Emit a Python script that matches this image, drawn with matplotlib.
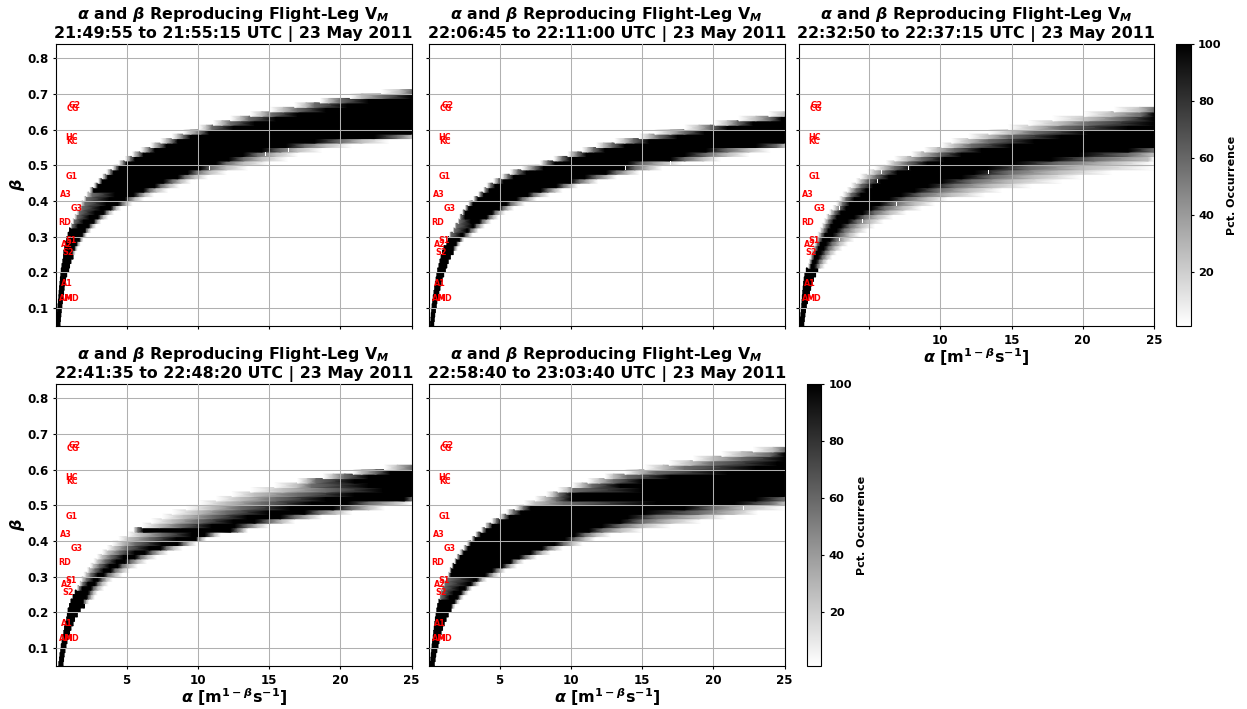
import matplotlib

matplotlib.use("Agg")
import matplotlib.pyplot as plt
from matplotlib.cm import ScalarMappable
from matplotlib.colors import Normalize

plt.rcParams["font.family"] = "DejaVu Sans"
plt.rcParams["font.weight"] = "bold"
plt.rcParams["mathtext.fontset"] = "dejavusans"
plt.rcParams["mathtext.default"] = "bf"

FIG_W, FIG_H = 1247, 709

leg_times = [
    "21:49:55 to 21:55:15",
    "22:06:45 to 22:11:00",
    "22:32:50 to 22:37:15",
    "22:41:35 to 22:48:20",
    "22:58:40 to 23:03:40",
]

# ice-class labels, alpha / beta position
class_names = ["G2", "CG", "HC", "KC", "G1", "A3", "G3", "RD", "S1", "A2", "S2", "A1", "AM", "MD"]
class_alpha = [1.34, 1.24, 1.15, 1.15, 1.17, 0.73, 1.53, 0.66, 1.13, 0.82, 0.92, 0.82, 0.78, 1.12]
class_beta = [0.669, 0.658, 0.579, 0.568, 0.468, 0.418, 0.378, 0.339, 0.289, 0.277, 0.257, 0.168, 0.128, 0.128]

# rows of the beta grid, bottom row first
beta_start = 0.05
beta_step = 0.0125

# alpha positions where one beta row reaches these percentages:
#   2 values: black run
#   4 values: rising shades, then black out to the axis edge
#   8 values: rising shades, black, falling shades
edge_pct = [1, 26, 58, 100, 100, 58, 26, 1]

panel1_rows = [
    (0.07, 0.33), (0.10, 0.36), (0.13, 0.39), (0.16, 0.42), (0.19, 0.46), (0.22, 0.50),
    (0.25, 0.54), (0.27, 0.58), (0.30, 0.62), (0.33, 0.66), (0.36, 0.72), (0.39, 0.80),
    (0.42, 0.94), (0.47, 1.00), (0.53, 1.10), (0.58, 1.25),
    (0.6, 0.6, 0.6, 0.6, 1.2, 1.26, 1.32, 1.4),
    (0.66, 0.66, 0.66, 0.66, 1.35, 1.42, 1.48, 1.55),
    (0.72, 0.72, 0.72, 0.72, 1.5, 1.58, 1.65, 1.75),
    (0.8, 0.8, 0.8, 0.8, 1.7, 1.78, 1.86, 1.95),
    (0.9, 0.9, 0.9, 0.9, 1.9, 2.0, 2.1, 2.2),
    (1.0, 1.0, 1.0, 1.0, 2.1, 2.2, 2.35, 2.5),
    (1.1, 1.15, 1.2, 1.6, 2.35, 2.5, 2.65, 2.85),
    (1.2, 1.3, 1.35, 2.0, 2.7, 2.85, 3.0, 3.2),
    (1.35, 1.45, 1.55, 2.4, 3.0, 3.2, 3.4, 3.7),
    (1.5, 1.6, 1.7, 2.8, 3.4, 3.6, 3.8, 4.1),
    (1.65, 1.75, 1.9, 3.2, 3.9, 4.1, 4.3, 4.6),
    (1.8, 1.9, 2.1, 3.6, 4.4, 4.7, 5.0, 5.4),
    (2.0, 2.1, 2.2, 3.8, 4.9, 5.2, 5.6, 6.2),
    (2.2, 2.3, 2.6, 4.2, 5.5, 5.9, 6.3, 6.9),
    (2.4, 2.5, 2.6, 2.7, 6.2, 6.6, 7.1, 7.9),
    (2.7, 2.8, 2.9, 3.0, 7.0, 7.4, 8.0, 8.7),
    (3.0, 3.1, 3.2, 3.3, 7.6, 8.2, 8.8, 9.5),
    (3.3, 3.4, 3.55, 3.7, 8.6, 9.1, 9.8, 10.7),
    (3.6, 3.75, 3.9, 4.1, 9.3, 9.9, 10.8, 12.0),
    (4.0, 4.15, 4.3, 4.5, 10.2, 10.9, 12.0, 13.5),
    (4.45, 4.6, 4.8, 5.0, 11.3, 12.0, 13.2, 15.0),
    (4.9, 5.1, 5.3, 5.6, 12.2, 13.2, 14.5, 16.3),
    (5.4, 5.6, 5.9, 6.2, 13.2, 14.2, 15.5, 17.0),
    (6.0, 6.3, 6.6, 7.0, 14.5, 15.8, 17.0, 18.7),
    (6.7, 7.0, 7.4, 7.8, 16.2, 17.5, 19.0, 20.8),
    (7.4, 7.8, 8.2, 8.6, 18.2, 20.0, 21.5, 23.4),
    (8.2, 8.6, 9.0, 9.5, 22.4, 24.0, 25.0, 25.0),
    (9.0, 9.5, 10.2, 10.8),
    (10.1, 10.6, 11.0, 12.5),
    (11.1, 11.7, 12.3, 14.0),
    (12.3, 13.0, 13.6, 15.5),
    (13.7, 14.5, 15.2, 17.0),
    (15.1, 16.0, 17.0, 19.0),
    (16.8, 17.6, 18.2, 20.5),
    (18.6, 19.2, 20.0, 22.0),
    (20.7, 21.5, 23.0, 25.0),
    (22.9, 24.2, 25.0, 25.0),
]

panel2_rows = [
    (0.16, 0.38), (0.19, 0.42), (0.21, 0.45), (0.24, 0.50), (0.27, 0.56), (0.31, 0.60),
    (0.35, 0.66), (0.40, 0.74), (0.45, 0.82), (0.50, 0.90), (0.55, 0.98), (0.60, 1.08),
    (0.66, 1.20), (0.75, 1.30), (0.82, 1.40), (0.90, 1.55), (1.00, 1.75),
    (1.1, 1.1, 1.1, 1.1, 1.75, 1.85, 1.95, 2.05),
    (1.3, 1.3, 1.3, 1.3, 1.95, 2.05, 2.15, 2.25),
    (1.4, 1.4, 1.4, 1.4, 2.2, 2.3, 2.4, 2.5),
    (1.5, 1.55, 1.6, 2.3, 2.45, 2.65, 2.9, 3.1),
    (1.76, 1.8, 1.85, 2.7, 2.8, 3.0, 3.3, 3.5),
    (1.87, 1.92, 2.0, 3.1, 3.2, 3.4, 3.7, 3.95),
    (2.1, 2.15, 2.2, 3.0, 3.6, 3.8, 4.1, 4.4),
    (2.2, 2.25, 2.3, 2.6, 4.1, 4.3, 4.6, 4.9),
    (2.4, 2.45, 2.5, 2.6, 4.5, 4.7, 5.0, 5.4),
    (2.58, 2.65, 2.72, 2.85, 5.0, 5.25, 5.6, 6.0),
    (2.8, 2.9, 3.0, 3.15, 5.5, 5.8, 6.3, 6.75),
    (3.16, 3.25, 3.35, 3.5, 6.2, 6.6, 7.1, 7.6),
    (3.5, 3.6, 3.7, 3.9, 7.0, 7.4, 7.9, 8.5),
    (3.86, 3.95, 4.05, 4.3, 7.9, 8.4, 8.9, 9.4),
    (4.1, 4.25, 4.4, 4.7, 9.0, 9.5, 10.0, 10.5),
    (4.57, 4.75, 4.95, 5.3, 10.0, 10.6, 11.3, 11.9),
    (5.15, 5.35, 5.6, 6.0, 11.0, 11.8, 12.6, 13.2),
    (5.74, 6.0, 6.3, 6.9, 12.5, 13.2, 14.0, 14.8),
    (6.56, 7.0, 7.5, 8.1, 13.7, 14.5, 15.5, 16.4),
    (7.85, 8.1, 8.4, 8.9, 14.0, 15.0, 16.5, 17.8),
    (8.8, 9.1, 9.4, 10.0, 17.0, 18.0, 19.3, 20.5),
    (9.8, 10.1, 10.5, 11.1, 18.0, 19.5, 21.0, 22.5),
    (10.8, 11.2, 11.6, 12.4, 19.5, 21.0, 22.5, 24.0),
    (11.8, 12.3, 12.9, 13.8, 23.0, 24.5, 25.0, 25.0),
    (13.1, 13.8, 14.4, 15.5),
    (14.8, 15.5, 16.2, 17.5),
    (15.9, 17.0, 18.0, 19.4),
    (18.0, 19.0, 19.8, 21.0),
    (20.1, 21.0, 21.7, 22.8),
    (21.8, 23.0, 24.0, 24.8),
    (23.9, 25.0, 25.0, 25.0),
]

panel3_rows = [
    (0.16, 0.42), (0.19, 0.46), (0.22, 0.50), (0.25, 0.54), (0.28, 0.60), (0.30, 0.68),
    (0.32, 0.76), (0.35, 0.82), (0.38, 0.90), (0.41, 1.00), (0.45, 1.10), (0.50, 1.25),
    (0.60, 1.40),
    (0.73, 0.8, 0.87, 0.94, 1.17, 1.4, 1.6, 1.87),
    (0.8, 0.87, 0.94, 1.05, 1.3, 1.52, 1.8, 2.1),
    (0.87, 0.96, 1.05, 1.17, 1.45, 1.73, 2.06, 2.4),
    (0.94, 1.05, 1.17, 1.31, 1.64, 1.95, 2.3, 2.7),
    (1.05, 1.17, 1.29, 1.45, 1.83, 2.18, 2.62, 3.1),
    (1.17, 1.29, 1.4, 1.6, 2.0, 2.41, 2.93, 3.5),
    (1.29, 1.4, 1.55, 1.76, 2.25, 2.7, 3.28, 3.93),
    (1.4, 1.55, 1.69, 1.92, 2.46, 3.0, 3.63, 4.33),
    (1.55, 1.69, 1.87, 2.15, 2.74, 3.28, 4.05, 4.87),
    (1.69, 1.83, 2.0, 2.34, 3.04, 3.65, 4.45, 5.4),
    (1.83, 2.0, 2.18, 2.53, 3.5, 4.17, 5.03, 6.0),
    (2.0, 2.15, 2.39, 2.76, 3.98, 4.68, 5.62, 6.67),
    (2.22, 2.39, 2.62, 3.04, 4.57, 5.39, 6.44, 7.6),
    (2.46, 2.7, 2.93, 3.4, 5.15, 6.1, 7.38, 8.67),
    (2.7, 2.93, 3.16, 3.63, 5.74, 6.8, 8.2, 9.6),
    (2.93, 3.16, 3.4, 3.98, 6.44, 7.6, 9.13, 10.5),
    (3.16, 3.47, 3.75, 4.45, 7.26, 8.67, 10.77, 13.1),
    (3.47, 3.75, 4.1, 4.8, 8.2, 9.83, 12.0, 14.3),
    (3.75, 4.1, 4.45, 5.3, 9.13, 11.0, 13.6, 16.4),
    (4.1, 4.45, 4.9, 5.85, 10.07, 12.2, 15.0, 18.5),
    (4.4, 4.9, 5.5, 6.4, 11.5, 13.6, 16.6, 19.9),
    (4.9, 5.4, 6.1, 7.0, 12.4, 14.8, 18.3, 22.0),
    (5.4, 6.1, 6.8, 8.0, 13.35, 16.2, 20.1, 25.0),
    (6.2, 6.8, 7.7, 9.1, 15.2, 18.3, 22.0, 25.0),
    (6.8, 7.7, 8.7, 10.3, 17.8, 20.8, 24.6, 25.0),
    (8.0, 8.7, 9.8, 11.5, 19.7, 23.2, 25.0, 25.0),
    (8.9, 9.8, 11.0, 12.9, 23.2, 25.0, 25.0, 25.0),
    (10.1, 11.0, 12.2, 15.0),
    (10.8, 12.0, 13.4, 16.6),
    (12.0, 13.4, 14.8, 18.5),
    (13.4, 15.0, 16.6, 20.4),
    (14.8, 16.6, 18.5, 23.2),
    (16.2, 18.3, 20.4, 25.0),
    (17.9, 20.4, 22.7, 25.0),
    (20.1, 22.0, 24.1, 25.0),
    (22.2, 24.0, 25.0, 25.0),
]

panel4_rows = [
    (0.25, 0.54), (0.30, 0.58), (0.33, 0.62), (0.38, 0.68), (0.42, 0.75), (0.48, 0.82),
    (0.54, 0.90), (0.60, 1.00), (0.65, 1.10), (0.72, 1.25), (0.80, 1.35), (0.85, 1.55),
    (0.90, 1.75), (1.00, 2.05),
    (1.1, 1.1, 1.1, 1.1, 1.95, 2.05, 2.2, 2.35),
    (1.25, 1.25, 1.25, 1.25, 2.2, 2.35, 2.55, 2.75),
    (1.4, 1.4, 1.4, 1.4, 2.3, 2.5, 2.7, 2.95),
    (1.53, 1.6, 1.7, 1.9, 2.5, 2.7, 3.0, 3.4),
    (1.7, 1.8, 1.95, 2.3, 2.8, 3.0, 3.3, 3.7),
    (1.83, 1.95, 2.2, 2.7, 3.0, 3.3, 3.6, 4.0),
    (2.0, 2.2, 2.5, 3.0, 3.4, 3.7, 4.2, 4.7),
    (2.23, 2.4, 2.8, 3.4, 3.9, 4.2, 4.7, 5.2),
    (2.46, 2.7, 3.1, 3.8, 4.4, 4.7, 5.2, 5.75),
    (2.7, 3.0, 3.5, 4.3, 4.9, 5.3, 5.8, 6.4),
    (2.93, 3.3, 3.9, 4.8, 5.6, 6.0, 6.5, 7.1),
    (3.3, 3.7, 4.5, 5.6, 6.3, 6.8, 7.3, 7.9),
    (3.64, 4.2, 5.0, 6.6, 7.4, 7.8, 8.3, 8.9),
    (4.0, 4.7, 5.6, 7.5, 8.6, 9.0, 9.4, 9.9),
    (4.46, 5.2, 6.6, 8.5, 9.9, 10.0, 10.3, 10.6),
    (5.05, 6.0, 7.5, 9.6, 10.5, 10.9, 11.2, 11.6),
    (5.5, 5.6, 5.8, 6.2, 12.3, 12.8, 13.2, 13.5),
    (6.1, 7.3, 8.8, 11.0, 12.6, 13.5, 14.2, 15.0),
    (6.76, 8.2, 10.0, 12.5, 14.0, 15.0, 15.9, 16.8),
    (7.5, 9.0, 11.0, 13.5, 15.8, 16.8, 17.8, 18.7),
    (8.2, 10.0, 12.0, 15.0, 17.5, 18.5, 19.7, 20.8),
    (9.2, 11.0, 13.0, 16.5, 19.5, 20.8, 22.0, 23.1),
    (10.1, 12.0, 14.5, 18.0, 20.5, 22.0, 23.8, 25.0),
    (11.3, 13.0, 15.5, 19.0, 24.5, 25.0, 25.0, 25.0),
    (12.4, 14.0, 17.0, 21.0),
    (13.7, 16.0, 19.0, 23.0),
    (15.4, 17.0, 18.0, 22.0),
    (17.0, 17.7, 18.3, 21.0),
    (18.8, 19.5, 20.3, 22.0),
    (20.9, 21.5, 22.5, 23.5),
    (23.1, 24.0, 25.0, 25.0),
]

panel5_rows = [
    (0.12, 0.42), (0.18, 0.48), (0.21, 0.52), (0.24, 0.60), (0.27, 0.68), (0.30, 0.75),
    (0.35, 0.82), (0.38, 0.90), (0.42, 1.00), (0.46, 1.12), (0.50, 1.25), (0.55, 1.40),
    (0.60, 1.60),
    (0.66, 0.66, 0.66, 0.66, 1.6, 1.7, 1.78, 1.87),
    (0.75, 0.75, 0.75, 0.75, 1.85, 1.95, 2.05, 2.2),
    (0.82, 0.85, 0.88, 1.5, 2.05, 2.2, 2.3, 2.46),
    (0.9, 0.93, 0.96, 1.8, 2.3, 2.45, 2.6, 2.8),
    (0.98, 1.02, 1.06, 2.2, 2.6, 2.75, 2.9, 3.05),
    (1.1, 1.15, 1.2, 2.8, 3.0, 3.2, 3.4, 3.6),
    (1.3, 1.33, 1.36, 3.2, 3.4, 3.6, 3.8, 4.1),
    (1.4, 1.45, 1.5, 1.6, 4.0, 4.3, 4.6, 5.0),
    (1.5, 1.55, 1.6, 1.65, 4.5, 4.8, 5.1, 5.4),
    (1.64, 1.7, 1.75, 1.8, 5.2, 5.5, 5.8, 6.2),
    (1.83, 1.9, 1.95, 2.0, 5.8, 6.0, 6.3, 6.7),
    (2.0, 2.05, 2.15, 2.25, 6.4, 6.8, 7.2, 7.6),
    (2.2, 2.3, 2.4, 2.5, 7.2, 7.6, 8.0, 8.55),
    (2.46, 2.55, 2.65, 2.8, 8.0, 8.4, 8.9, 9.4),
    (2.7, 2.8, 2.9, 3.0, 8.9, 9.5, 10.1, 10.8),
    (3.05, 3.1, 3.2, 3.3, 9.6, 10.3, 11.0, 11.7),
    (3.3, 3.4, 3.5, 3.7, 10.3, 11.0, 11.8, 12.8),
    (3.7, 3.8, 3.9, 4.1, 11.3, 12.2, 13.5, 15.0),
    (4.0, 4.1, 4.3, 4.5, 12.2, 13.5, 15.0, 17.0),
    (4.45, 4.6, 4.8, 5.1, 13.5, 15.0, 17.0, 19.1),
    (5.0, 5.2, 5.4, 5.7, 14.0, 16.0, 19.0, 20.9),
    (5.5, 5.7, 6.0, 6.5, 15.2, 19.0, 21.5, 23.1),
    (6.1, 6.4, 6.7, 7.2, 18.0, 20.0, 22.2, 25.0),
    (6.75, 7.5, 9.5, 16.0, 21.5, 24.0, 25.0, 25.0),
    (7.5, 8.2, 9.0, 10.1, 23.0, 25.0, 25.0, 25.0),
    (8.3, 8.8, 9.2, 10.1),
    (9.1, 9.8, 10.2, 15.0),
    (10.1, 10.8, 11.5, 13.5),
    (11.2, 12.0, 13.0, 15.0),
    (12.4, 13.0, 14.0, 17.0),
    (13.8, 14.8, 16.0, 21.0),
    (15.2, 16.5, 18.0, 23.0),
    (16.9, 18.4, 20.0, 24.5),
    (18.6, 20.0, 22.0, 25.0),
    (20.6, 22.0, 24.0, 25.0),
    (22.8, 24.2, 25.0, 25.0),
]

# single empty cells inside the band: alpha, row bottom
panel1_gaps = [(10.8, 0.4875), (14.74, 0.525), (16.36, 0.5375)]
panel2_gaps = [(13.86, 0.4875), (17.0, 0.5)]
panel3_gaps = [(7.75, 0.4875), (13.35, 0.475), (5.6, 0.45), (5.85, 0.475), (6.9, 0.3875),
               (4.57, 0.3375), (2.95, 0.2875), (2.9, 0.375)]
panel4_gaps = []
panel5_gaps = [(2.04, 0.2125), (22.1, 0.4875)]

all_rows = [panel1_rows, panel2_rows, panel3_rows, panel4_rows, panel5_rows]
all_gaps = [panel1_gaps, panel2_gaps, panel3_gaps, panel4_gaps, panel5_gaps]

alpha_ticks = [5, 10, 15, 20, 25]
beta_ticks = [0.1, 0.2, 0.3, 0.4, 0.5, 0.6, 0.7, 0.8]
cbar_ticks = [20, 40, 60, 80, 100]

ALPHA_LABEL = r"$\boldsymbol{\alpha}$ [m$^{1-\boldsymbol{\beta}}$s$^{-1}$]"
BETA_LABEL = r"$\boldsymbol{\beta}$"
TITLE_TOP = r"$\boldsymbol{\alpha}$ and $\boldsymbol{\beta}$ Reproducing Flight-Leg V$_{\mathit{M}}$"

norm = Normalize(vmin=1, vmax=100)
cmap = "gray_r"


def px_axes(fig, left, top, right, bottom):
    return fig.add_axes([left / FIG_W, 1 - bottom / FIG_H, (right - left) / FIG_W, (bottom - top) / FIG_H])


def draw_rows(ax, rows):
    for i, row in enumerate(rows):
        b = beta_start + i * beta_step
        if len(row) == 2:
            edges, pct = list(row), [100, 100]
        elif len(row) == 4:
            edges, pct = list(row) + [25.0], edge_pct[:5]
        else:
            edges, pct = list(row), edge_pct
        # shade between the read positions; the row keeps its own flat top and bottom
        ax.pcolormesh(edges, [b, b + beta_step], [pct, pct], cmap=cmap, norm=norm, shading="gouraud", zorder=1)


def draw_panel(ax, idx, show_xlabels, show_ylabels):
    draw_rows(ax, all_rows[idx])
    for a, b in all_gaps[idx]:
        ax.bar(a, beta_step, width=0.07, bottom=b, color="white", zorder=1.5)
    ax.set_xlim(0.05, 25)
    ax.set_ylim(0.05, 0.84)
    ax.set_xticks(alpha_ticks)
    ax.set_yticks(beta_ticks)
    ax.grid(True, color="#b0b0b0", linewidth=0.75, zorder=2)
    ax.set_axisbelow(False)
    ax.tick_params(labelsize=8.6, length=2.5, width=0.8, pad=3)
    if not show_xlabels:
        ax.tick_params(labelbottom=False)
    if not show_ylabels:
        ax.tick_params(labelleft=False)
    else:
        ax.set_ylabel(BETA_LABEL, fontsize=11.5, fontweight="bold", labelpad=0)
    for name, a, b in zip(class_names, class_alpha, class_beta):
        ax.text(a, b, name, color="red", fontsize=5.8, fontweight="bold", ha="center", va="center", zorder=3)
    ax.set_title(f"{TITLE_TOP}\n{leg_times[idx]} UTC | 23 May 2011", fontsize=11.45, fontweight="bold", pad=4, linespacing=1.18)


def draw_colorbar(fig, left, top, right, bottom, label_x):
    cax = px_axes(fig, left, top, right, bottom)
    cbar = fig.colorbar(ScalarMappable(norm=norm, cmap=cmap), cax=cax)
    cbar.set_ticks(cbar_ticks)
    cbar.ax.tick_params(labelsize=8.2, length=2.5, width=0.8, pad=3)
    fig.text(label_x / FIG_W, 1 - (top + bottom) / 2 / FIG_H, "Pct. Occurrence", rotation=90,
             fontsize=8, fontweight="bold", ha="center", va="center")


fig = plt.figure(figsize=(FIG_W / 100, FIG_H / 100), dpi=100)

ax1 = px_axes(fig, 56, 44, 411.5, 326)
ax2 = px_axes(fig, 429, 44, 784.5, 326)
ax3 = px_axes(fig, 798.5, 44, 1154, 326)
ax4 = px_axes(fig, 56, 384, 411.5, 666)
ax5 = px_axes(fig, 429, 384, 784.5, 666)

draw_panel(ax1, 0, False, True)
draw_panel(ax2, 1, False, False)
draw_panel(ax3, 2, True, False)
draw_panel(ax4, 3, True, True)
draw_panel(ax5, 4, True, False)

ax3.set_xticklabels(["", "10", "15", "20", "25"])
for ax in (ax3, ax4, ax5):
    ax.set_xlabel(ALPHA_LABEL, fontsize=11.5, fontweight="bold", labelpad=0)

draw_colorbar(fig, 1176, 44, 1190.5, 326, 1232)
draw_colorbar(fig, 806.5, 384, 821, 666, 862)

fig.savefig("out.png", dpi=100)
plt.close(fig)
